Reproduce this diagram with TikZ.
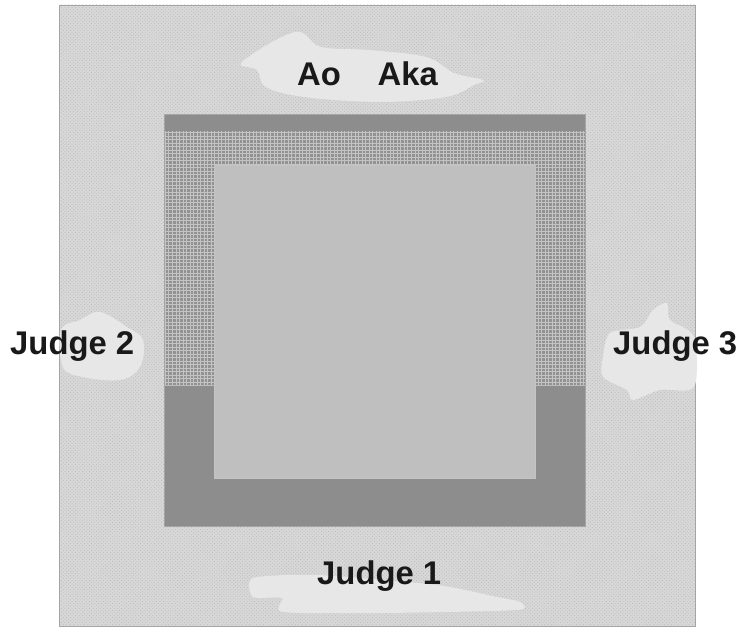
\documentclass[tikz,border=0pt]{standalone}
\usepackage{fontspec}
\setmainfont{Liberation Sans}
\usetikzlibrary{patterns}
\definecolor{floorgray}{RGB}{216,216,216}
\definecolor{dotgray}{RGB}{188,188,188}
\definecolor{edgegray}{RGB}{165,165,165}
\definecolor{cloudgray}{RGB}{231,231,231}
\definecolor{bandgray}{RGB}{141,141,141}
\definecolor{hatchgray}{RGB}{146,146,146}
\definecolor{gridgray}{RGB}{196,196,196}
\definecolor{innergray}{RGB}{191,191,191}
\tikzset{
  cloud/.style={fill=cloudgray,draw=none},
  judge/.style={font=\bfseries\fontsize{28}{28}\selectfont,text=black!90,anchor=base west,inner sep=0pt}
}
\begin{document}
\begin{tikzpicture}[x=0.03cm,y=-0.03cm]
  \useasboundingbox (0,0) rectangle (744,628);
  % competition area
  \fill[floorgray] (59,5) rectangle (695,626);
  \fill[pattern=crosshatch dots,pattern color=dotgray] (59,5) rectangle (695,626);
  \draw[edgegray,thin] (59,5) rectangle (695,626);
  % clouds behind the labels
  \fill[cloud] plot[smooth cycle,tension=0.6] coordinates {(242,62) (295,32) (321,47) (369,50) (426,57) (454,73) (483,80) (474,85) (446,97) (380,102) (304,97) (266,87) (257,70)};
  \fill[cloud] plot[smooth cycle,tension=0.6] coordinates {(100,312) (127,327) (143,340) (140,367) (120,380) (83,377) (63,367) (61,330) (80,320)};
  \fill[cloud] plot[smooth cycle,tension=0.5] coordinates {(667,303) (670,320) (694,337) (694,387) (660,390) (633,400) (627,390) (603,377) (603,357) (610,333) (640,327) (653,310)};
  \fill[cloud] plot[smooth cycle,tension=0.4] coordinates {(253,578) (317,575) (437,585) (497,597) (520,602) (517,610) (383,613) (283,612) (282,598) (253,597)};
  % mat
  \fill[hatchgray] (164,131) rectangle (585,386);
  \fill[pattern=grid,pattern color=gridgray] (164,131) rectangle (585,386);
  \fill[bandgray] (164,114) rectangle (585,131);
  \fill[bandgray] (164,386) -- (214,386) -- (214,478) -- (535,478) -- (535,386)
    -- (585,386) -- (585,526) -- (164,526) -- cycle;
  \draw[edgegray,thin] (164,114) rectangle (585,526);
  \fill[innergray] (214,165) rectangle (535,478);
  \draw[gridgray,thin] (214,165) rectangle (535,478);
  % labels
  \node[judge] (aoaka) at (297,86) {Ao\hspace{1.1cm}Aka};
  \node[judge] (judge2) at (10,355) {Judge 2};
  \node[judge] (judge3) at (613,355) {Judge 3};
  \node[judge] (judge1) at (317,585) {Judge 1};
\end{tikzpicture}
\end{document}
